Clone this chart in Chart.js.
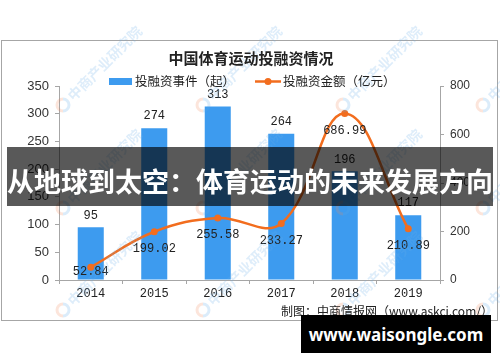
<!DOCTYPE html>
<html>
<head>
<meta charset="utf-8">
<script src="https://cdn.jsdelivr.net/npm/chart.js@4"></script>
<style>
  html, body { margin: 0; padding: 0; background: #fff; }
  #wrap { position: relative; width: 500px; height: 362px; overflow: hidden; }
  #banner {
    position: absolute; left: 7px; top: 147px; width: 486px; height: 59px;
    background: rgba(0, 0, 0, 0.65); color: #fff;
    font: bold 27px "Noto Sans CJK SC", sans-serif;
    display: flex; align-items: center; justify-content: center;
    white-space: nowrap; padding-top: 7px; box-sizing: border-box;
  }
  #site {
    position: absolute; left: 301px; top: 315px; width: 190px; height: 38px;
    background: #000; color: #fff;
    font: bold 17px "Noto Sans", sans-serif;
    display: flex; align-items: center; justify-content: center;
  }
</style>
</head>
<body>
<div id="wrap">
  <canvas id="c" width="500" height="362"></canvas>
  <div id="banner">从地球到太空：体育运动的未来发展方向</div>
  <div id="site">www.waisongle.com</div>
</div>
<script>
  // data
  var years = ['2014', '2015', '2016', '2017', '2018', '2019'];
  var eventCounts = [95, 274, 313, 264, 196, 117];
  var amounts = [52.84, 199.02, 255.58, 233.27, 686.99, 210.89];
  var eventLabel = '投融资事件（起）';
  var amountLabel = '投融资金额（亿元）';
  var chartTitle = '中国体育运动投融资情况';
  var sourceText = '制图：中商情报网（www.askci.com/）';
  var watermarkText = '中商产业研究院';

  var BLUE = '#3d9bef';
  var ORANGE = '#f26d1e';
  var AXIS = '#a6a6a6';

  function drawWatermark(ctx, x, y) {
    ctx.save();
    ctx.translate(x, y);
    ctx.globalAlpha = 0.22;
    ctx.lineWidth = 3;
    ctx.strokeStyle = '#f08a5a';
    ctx.beginPath();
    ctx.arc(0, 0, 6, Math.PI * 0.5, Math.PI * 1.5);
    ctx.stroke();
    ctx.strokeStyle = '#5aa8e6';
    ctx.beginPath();
    ctx.arc(0, 0, 6, Math.PI * 1.5, Math.PI * 0.5);
    ctx.stroke();
    ctx.rotate(-Math.PI / 4);
    ctx.fillStyle = '#6aaee6';
    ctx.font = 'bold 14px "Noto Sans CJK SC", sans-serif';
    ctx.textAlign = 'left';
    ctx.textBaseline = 'middle';
    ctx.fillText(watermarkText, 10, 0);
    ctx.restore();
  }

  // title, legend, frame and source line drawn around the plot
  var decor = {
    id: 'decor',
    beforeDraw: function (chart) {
      var ctx = chart.ctx;
      ctx.save();
      ctx.strokeStyle = AXIS;
      ctx.lineWidth = 1;
      ctx.strokeRect(1.5, 40.5, 496, 280);
      ctx.restore();
    },
    afterDraw: function (chart) {
      var ctx = chart.ctx;
      [105, 208, 310].forEach(function (wy) {
        [63, 203, 343, 483].forEach(function (wx) { drawWatermark(ctx, wx, wy); });
      });

      ctx.save();
      ctx.fillStyle = '#222';
      ctx.textBaseline = 'middle';
      ctx.textAlign = 'center';
      ctx.font = 'bold 15px "Noto Sans CJK SC", sans-serif';
      ctx.fillText(chartTitle, 251, 58);

      ctx.font = '12.5px "Noto Sans CJK SC", sans-serif';
      ctx.textAlign = 'left';
      ctx.fillStyle = BLUE;
      ctx.fillRect(109, 78, 23, 7);
      ctx.fillStyle = '#222';
      ctx.fillText(eventLabel, 135, 81);

      ctx.strokeStyle = ORANGE;
      ctx.lineWidth = 2.5;
      ctx.beginPath();
      ctx.moveTo(255, 81.5);
      ctx.lineTo(281, 81.5);
      ctx.stroke();
      ctx.fillStyle = ORANGE;
      ctx.beginPath();
      ctx.arc(268, 81.5, 3.5, 0, Math.PI * 2);
      ctx.fill();
      ctx.fillStyle = '#222';
      ctx.fillText(amountLabel, 283, 81);

      ctx.font = '12px "Noto Sans CJK SC", sans-serif';
      ctx.fillText(sourceText, 281, 311);
      ctx.restore();
    }
  };

  // value labels: above bars, below line points
  var valueLabels = {
    id: 'valueLabels',
    afterDatasetsDraw: function (chart) {
      var ctx = chart.ctx;
      var area = chart.chartArea;
      ctx.save();
      ctx.font = '12px "Liberation Mono", monospace';
      ctx.fillStyle = '#222';
      ctx.textAlign = 'center';
      ctx.textBaseline = 'middle';
      chart.getDatasetMeta(1).data.forEach(function (el, i) {
        ctx.fillText(String(eventCounts[i]), el.x, el.y - 12);
      });
      chart.getDatasetMeta(0).data.forEach(function (el, i) {
        ctx.fillText(amounts[i].toFixed(2), el.x, Math.min(el.y + 17, area.bottom - 8));
      });
      ctx.restore();
    }
  };

  new Chart(document.getElementById('c').getContext('2d'), {
    data: {
      labels: years,
      datasets: [{
        type: 'line',
        label: amountLabel,
        data: amounts,
        yAxisID: 'y1',
        borderColor: ORANGE,
        backgroundColor: ORANGE,
        borderWidth: 2.5,
        pointRadius: 3.5,
        pointBackgroundColor: ORANGE,
        pointBorderWidth: 0,
        tension: 0.4,
        order: 0
      }, {
        type: 'bar',
        label: eventLabel,
        data: eventCounts,
        yAxisID: 'y',
        backgroundColor: BLUE,
        barPercentage: 0.41,
        categoryPercentage: 1,
        order: 1
      }]
    },
    options: {
      responsive: false,
      animation: false,
      layout: { padding: { top: 86, bottom: 52, left: 0, right: 0 } },
      plugins: { legend: { display: false }, tooltip: { enabled: false } },
      scales: {
        x: {
          offset: true,
          grid: { offset: true, drawOnChartArea: false, tickLength: 4, color: AXIS },
          border: { color: AXIS },
          ticks: { color: '#222', padding: 3, font: { family: '"Liberation Mono", monospace', size: 12 } },
          afterFit: function (s) { s.height = 30; }
        },
        y: {
          position: 'left',
          min: 0, max: 350,
          ticks: { stepSize: 50, color: '#333', padding: 6, font: { family: '"Liberation Sans", Arial, sans-serif', size: 13 } },
          grid: { drawOnChartArea: false, tickLength: 4, color: AXIS },
          border: { color: AXIS },
          afterFit: function (s) { s.width = 59; }
        },
        y1: {
          position: 'right',
          min: 0, max: 800,
          ticks: { stepSize: 200, color: '#333', padding: 6, font: { family: '"Liberation Sans", Arial, sans-serif', size: 12 } },
          grid: { drawOnChartArea: false, tickLength: 4, color: AXIS },
          border: { color: AXIS },
          afterFit: function (s) { s.width = 60; }
        }
      }
    },
    plugins: [decor, valueLabels]
  });
</script>
</body>
</html>
